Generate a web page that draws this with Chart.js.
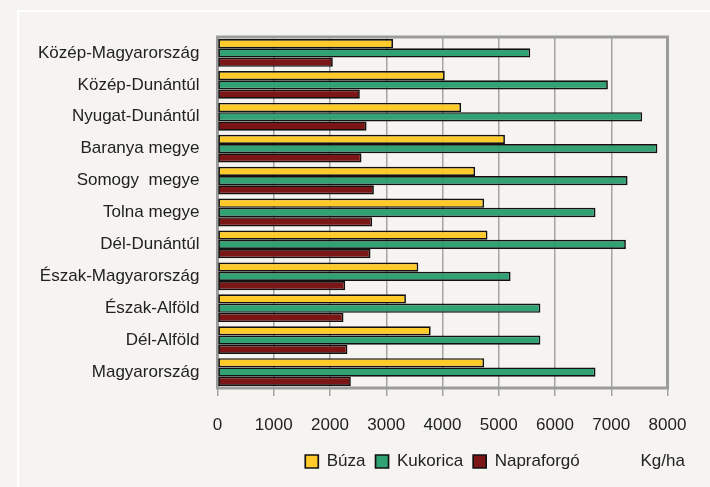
<!DOCTYPE html>
<html>
<head>
<meta charset="utf-8">
<script src="https://cdn.jsdelivr.net/npm/chart.js@4/dist/chart.umd.min.js"></script>
<style>
    html, body { margin: 0; padding: 0; background: #f6f4f1; overflow: hidden; }
    #wrap { position: relative; width: 710px; height: 487px; }
    #keret { position: absolute; left: 17px; top: 10px; width: 800px; height: 600px;
             border-left: 2px solid #ffffff; border-top: 2px solid #ffffff; }
    canvas { position: absolute; left: 0; top: 0; }
</style>
</head>
<body>
<div id="wrap">
    <div id="keret"></div>
    <canvas id="termesChart" width="710" height="487"></canvas>
</div>
<script>
// régiók (fentről lefelé)
const regiok = [
    'Közép-Magyarország', 'Közép-Dunántúl', 'Nyugat-Dunántúl', 'Baranya megye',
    'Somogy  megye', 'Tolna megye', 'Dél-Dunántúl', 'Észak-Magyarország',
    'Észak-Alföld', 'Dél-Alföld', 'Magyarország'
];
// termésátlagok, kg/ha
const buza = [3120, 4040, 4330, 5110, 4580, 4740, 4800, 3570, 3350, 3790, 4740];
const kukorica = [5560, 6940, 7550, 7820, 7290, 6720, 7260, 5210, 5740, 5740, 6720];
const napraforgo = [2050, 2530, 2650, 2560, 2780, 2750, 2720, 2270, 2240, 2310, 2370];
const xTickek = [0, 1000, 2000, 3000, 4000, 5000, 6000, 7000, 8000];
const mertekegyseg = 'Kg/ha';

const betu = "'Liberation Sans Narrow', 'Arial Narrow', 'Liberation Sans', Arial, sans-serif";
const betuMeret = 17;

// szürke keret a rajzterület körül
const keretPlugin = {
    id: 'keret',
    beforeDatasetsDraw(chart) {
        const a = chart.chartArea;
        const ctx = chart.ctx;
        ctx.save();
        ctx.strokeStyle = '#9c9c9c';
        ctx.lineWidth = 3;
        ctx.strokeRect(a.left, a.top, a.right - a.left, a.bottom - a.top);
        ctx.restore();
    }
};

// Kg/ha felirat a jelmagyarázat mellett
const egysegPlugin = {
    id: 'egyseg',
    afterDraw(chart) {
        const lg = chart.legend;
        const ctx = chart.ctx;
        ctx.save();
        ctx.font = betuMeret + 'px ' + betu;
        ctx.fillStyle = '#222222';
        ctx.textAlign = 'left';
        ctx.textBaseline = 'middle';
        ctx.fillText(mertekegyseg, chart.chartArea.right - 27, lg.top + lg.height / 2);
        ctx.restore();
    }
};

document.addEventListener('DOMContentLoaded', function () {
    const ctx = document.getElementById('termesChart');
    new Chart(ctx, {
        type: 'bar',
        data: {
            labels: regiok,
            datasets: [
                { label: 'Búza', data: buza, backgroundColor: '#ffcb2b' },
                { label: 'Kukorica', data: kukorica, backgroundColor: '#31a274' },
                { label: 'Napraforgó', data: napraforgo, backgroundColor: '#7b1516' }
            ].map(function (d) {
                return Object.assign(d, {
                    borderColor: '#111111',
                    borderWidth: 1.7,
                    borderSkipped: false,
                    categoryPercentage: 0.87,
                    barPercentage: 1.0
                });
            })
        },
        options: {
            indexAxis: 'y',
            responsive: false,
            animation: false,
            layout: {
                padding: { left: 20, right: 42.5, top: 37, bottom: 7 }
            },
            scales: {
                x: {
                    min: 0,
                    max: 8000,
                    afterBuildTicks: function (scale) {
                        scale.ticks = xTickek.map(function (v) { return { value: v }; });
                    },
                    afterFit: function (scale) { scale.height = 55; },
                    grid: {
                        color: '#a3a3a3',
                        lineWidth: 1.5,
                        drawTicks: true,
                        tickLength: 8
                    },
                    border: { display: false },
                    ticks: {
                        padding: 19,
                        color: '#222222',
                        font: { family: betu, size: betuMeret },
                        callback: function (v) { return String(v); }
                    }
                },
                y: {
                    afterFit: function (scale) { scale.width = 197.5; },
                    grid: { display: false, drawTicks: false },
                    border: { display: false },
                    ticks: {
                        padding: 18,
                        color: '#222222',
                        font: { family: betu, size: betuMeret }
                    }
                }
            },
            plugins: {
                legend: {
                    position: 'bottom',
                    fullSize: false,
                    labels: {
                        boxWidth: 13,
                        boxHeight: 13,
                        padding: 10,
                        color: '#222222',
                        font: { family: betu, size: betuMeret }
                    }
                },
                tooltip: { enabled: false }
            }
        },
        plugins: [keretPlugin, egysegPlugin]
    });
});
</script>
</body>
</html>
